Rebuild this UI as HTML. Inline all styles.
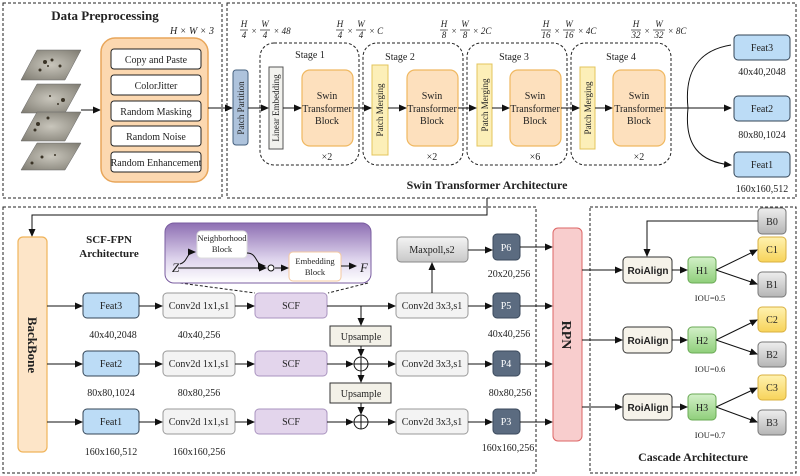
<!DOCTYPE html>
<html><head><meta charset="utf-8"><style>
html,body{margin:0;padding:0;background:#fff}
svg{display:block}
text{font-family:"Liberation Serif",serif;fill:#222}
.s{font-size:10px}
.b{font-weight:bold}
.fr text{font-size:9px;font-style:italic;text-anchor:middle}
</style></head><body>
<svg width="800" height="476" viewBox="0 0 800 476" xmlns="http://www.w3.org/2000/svg">
<defs>
<marker id="a" markerWidth="8" markerHeight="8" refX="7" refY="4" orient="auto" markerUnits="userSpaceOnUse"><path d="M0,0.5 L8,4 L0,7.5 z" fill="#111"/></marker>
<linearGradient id="pg" x1="0" y1="0" x2="0" y2="1"><stop offset="0" stop-color="#8e6fb3"/><stop offset="0.6" stop-color="#ddd3ec"/><stop offset="1" stop-color="#fff"/></linearGradient>
<linearGradient id="gg" x1="0" y1="0" x2="0" y2="1"><stop offset="0" stop-color="#f4f4f4"/><stop offset="1" stop-color="#c8c8c8"/></linearGradient>
<linearGradient id="grn" x1="0" y1="0" x2="0" y2="1"><stop offset="0" stop-color="#d3f0c8"/><stop offset="1" stop-color="#8fcf7a"/></linearGradient>
<linearGradient id="yel" x1="0" y1="0" x2="0" y2="1"><stop offset="0" stop-color="#fff2b0"/><stop offset="1" stop-color="#f7d35a"/></linearGradient>
<linearGradient id="gry" x1="0" y1="0" x2="0" y2="1"><stop offset="0" stop-color="#eee"/><stop offset="1" stop-color="#b5b5b5"/></linearGradient>
<radialGradient id="img" cx="0.5" cy="0.5" r="0.7"><stop offset="0" stop-color="#c9c6bc"/><stop offset="1" stop-color="#7d7a70"/></radialGradient>
</defs>
<g fill="none" stroke="#222" stroke-dasharray="3,2" stroke-width="1">
<rect x="3" y="3" width="219" height="195"/>
<rect x="227" y="3" width="569" height="195"/>
<rect x="3" y="207" width="533" height="266"/>
<rect x="590" y="207" width="206" height="266"/>
<rect x="260" y="43" width="99" height="122" rx="14"/>
<rect x="363" y="43" width="100" height="122" rx="14"/>
<rect x="467" y="43" width="100" height="122" rx="14"/>
<rect x="571" y="43" width="100" height="122" rx="14"/>
<path d="M180,283 L255,293 M368,283 L328,293"/>
</g>
<text x="105" y="20" text-anchor="middle" font-size="13" class="b">Data Preprocessing</text>
<g fill="url(#img)" stroke="#666" stroke-width="0.5">
<path d="M37,50 L81,50 L65,80 L21,80 z"/><path d="M37,84 L81,84 L65,113 L21,113 z"/>
<path d="M37,112 L81,112 L65,141 L21,141 z"/><path d="M37,143 L81,143 L65,170 L21,170 z"/>
</g>
<g fill="#3a3326"><circle cx="45" cy="62" r="2"/><circle cx="52" cy="60" r="1.5"/><circle cx="60" cy="66" r="1.5"/><circle cx="40" cy="70" r="1.5"/><circle cx="48" cy="66" r="1"/><circle cx="63" cy="100" r="2"/><circle cx="50" cy="96" r="1"/><circle cx="58" cy="104" r="1"/><circle cx="38" cy="124" r="2"/><circle cx="48" cy="118" r="1.5"/><circle cx="35" cy="130" r="1.5"/><circle cx="42" cy="157" r="1.5"/><circle cx="32" cy="163" r="1.5"/><circle cx="55" cy="155" r="1"/></g>
<line x1="81" y1="110" x2="100" y2="110" stroke="#111" marker-end="url(#a)"/>
<text x="192" y="34" text-anchor="middle" class="s" font-style="italic">H × W × 3</text>
<rect x="101" y="38" width="107" height="144" rx="14" fill="#fcd8b0" stroke="#e8a65a" stroke-width="1.5"/>
<g fill="#fff" stroke="#222" stroke-width="1">
<rect x="111" y="49" width="90" height="20" rx="3"/><rect x="111" y="75" width="90" height="20" rx="3"/><rect x="111" y="101" width="90" height="20" rx="3"/><rect x="111" y="126" width="90" height="20" rx="3"/><rect x="111" y="152" width="90" height="20" rx="3"/>
</g>
<g text-anchor="middle" font-size="10"><text x="156" y="63">Copy and Paste</text><text x="156" y="89">ColorJitter</text><text x="156" y="115">Random Masking</text><text x="156" y="140">Random Noise</text><text x="156" y="166">Random Enhancement</text></g>
<line x1="208" y1="108" x2="232" y2="108" stroke="#111" marker-end="url(#a)"/>
<rect x="233" y="70" width="15" height="75" rx="3" fill="#aec3dc" stroke="#46607e"/>
<text transform="translate(244,108) rotate(-90)" text-anchor="middle" font-size="9">Patch Partition</text>
<rect x="269" y="67" width="14" height="82" fill="#f2f2ee" stroke="#555"/>
<text transform="translate(279,108) rotate(-90)" text-anchor="middle" font-size="9">Linear Embedding</text>
<g fill="#fde0bd" stroke="#f0b860" stroke-width="1.2">
<rect x="302" y="70" width="51" height="76" rx="8"/><rect x="407" y="70" width="51" height="76" rx="8"/><rect x="510" y="70" width="51" height="76" rx="8"/><rect x="613" y="70" width="52" height="76" rx="8"/>
</g>
<g fill="#fcefb8" stroke="#e3c45c">
<rect x="372" y="65" width="16" height="90"/><rect x="477" y="64" width="15" height="82"/><rect x="580" y="67" width="15" height="82"/>
</g>
<g font-size="9" text-anchor="middle"><text transform="translate(383,110) rotate(-90)">Patch Merging</text><text transform="translate(488,105) rotate(-90)">Patch Merging</text><text transform="translate(591,108) rotate(-90)">Patch Merging</text></g>
<g font-size="10" text-anchor="middle">
<text x="327" y="99">Swin</text><text x="327" y="112">Transformer</text><text x="327" y="124">Block</text>
<text x="432" y="99">Swin</text><text x="432" y="112">Transformer</text><text x="432" y="124">Block</text>
<text x="535" y="99">Swin</text><text x="535" y="112">Transformer</text><text x="535" y="124">Block</text>
<text x="639" y="99">Swin</text><text x="639" y="112">Transformer</text><text x="639" y="124">Block</text>
<text x="310" y="58">Stage 1</text><text x="400" y="60">Stage 2</text><text x="514" y="60">Stage 3</text><text x="621" y="60">Stage 4</text>
<text x="327" y="160">×2</text><text x="432" y="160">×2</text><text x="535" y="160">×6</text><text x="639" y="160">×2</text>
</g>
<g stroke="#111" marker-end="url(#a)">
<line x1="248" y1="108" x2="268" y2="108"/><line x1="283" y1="108" x2="301" y2="108"/><line x1="353" y1="108" x2="371" y2="108"/><line x1="388" y1="108" x2="406" y2="108"/><line x1="458" y1="108" x2="476" y2="108"/><line x1="492" y1="108" x2="509" y2="108"/><line x1="561" y1="108" x2="579" y2="108"/><line x1="595" y1="108" x2="612" y2="108"/>
<line x1="665" y1="108" x2="731" y2="108"/>
</g>
<path d="M688,108 C684,70 700,50 731,45 M688,108 C684,146 700,162 731,165" fill="none" stroke="#111" marker-end="url(#a)"/>
<g class="fr">
<text x="244" y="27">H</text><text x="244" y="38">4</text><text x="254" y="34">×</text><text x="265" y="27">W</text><text x="265" y="38">4</text><text x="282" y="34">× 48</text>
<text x="340" y="27">H</text><text x="340" y="38">4</text><text x="350" y="34">×</text><text x="361" y="27">W</text><text x="361" y="38">4</text><text x="376" y="34">× C</text>
<text x="444" y="27">H</text><text x="444" y="38">8</text><text x="454" y="34">×</text><text x="465" y="27">W</text><text x="465" y="38">8</text><text x="482" y="34">× 2C</text>
<text x="546" y="27">H</text><text x="546" y="38">16</text><text x="557" y="34">×</text><text x="569" y="27">W</text><text x="569" y="38">16</text><text x="587" y="34">× 4C</text>
<text x="636" y="27">H</text><text x="636" y="38">32</text><text x="647" y="34">×</text><text x="659" y="27">W</text><text x="659" y="38">32</text><text x="677" y="34">× 8C</text>
</g>
<g stroke="#222" stroke-width="0.7">
<line x1="240" y1="30" x2="248" y2="30"/><line x1="260" y1="30" x2="270" y2="30"/>
<line x1="336" y1="30" x2="344" y2="30"/><line x1="356" y1="30" x2="366" y2="30"/>
<line x1="440" y1="30" x2="448" y2="30"/><line x1="460" y1="30" x2="470" y2="30"/>
<line x1="541" y1="30" x2="551" y2="30"/><line x1="563" y1="30" x2="575" y2="30"/>
<line x1="631" y1="30" x2="641" y2="30"/><line x1="653" y1="30" x2="665" y2="30"/>
</g>
<g fill="#bcdcf6" stroke="#345"><rect x="734" y="35" width="56" height="25" rx="4"/><rect x="734" y="96" width="56" height="25" rx="4"/><rect x="734" y="152" width="56" height="25" rx="4"/></g>
<g font-size="10" text-anchor="middle"><text x="762" y="51">Feat3</text><text x="762" y="112">Feat2</text><text x="762" y="168">Feat1</text>
<text x="762" y="75">40x40,2048</text><text x="762" y="138">80x80,1024</text><text x="762" y="192">160x160,512</text></g>
<text x="487" y="189" text-anchor="middle" font-size="12" class="b">Swin Transformer  Architecture</text>
<path d="M487,198 L487,215 L32,215 L32,236" fill="none" stroke="#111" marker-end="url(#a)"/>
<rect x="18" y="237" width="29" height="215" rx="5" fill="#fde5c8" stroke="#f0b45a" stroke-width="1.2"/>
<text transform="translate(28,345) rotate(90)" text-anchor="middle" font-size="13" class="b">BackBone</text>
<text x="109" y="243" text-anchor="middle" font-size="11" class="b">SCF-FPN</text>
<text x="109" y="257" text-anchor="middle" font-size="11" class="b">Architecture</text>
<rect x="165" y="223" width="206" height="60" rx="9" fill="url(#pg)" stroke="#7a5da0"/>
<rect x="197" y="231" width="50" height="27" rx="4" fill="#fff" stroke="#ddd"/>
<rect x="289" y="252" width="52" height="29" rx="4" fill="#fff" stroke="#f4c9a0"/>
<g font-size="8.5" text-anchor="middle"><text x="222" y="241">Neighborhood</text><text x="222" y="252">Block</text><text x="315" y="264">Embedding</text><text x="315" y="275">Block</text></g>
<text x="172" y="272" font-size="13" font-style="italic">Z</text><text x="360" y="272" font-size="13" font-style="italic">F</text>
<g stroke="#111" fill="none" marker-end="url(#a)"><line x1="178" y1="268" x2="266" y2="268"/><line x1="275" y1="268" x2="288" y2="268"/><line x1="341" y1="266" x2="356" y2="266"/><path d="M180,264 C188,262 186,252 195,252"/><path d="M247,253 C258,253 255,266 265,266"/></g>
<circle cx="271" cy="268" r="3" fill="#fff" stroke="#111"/>
<g fill="#bcdcf6" stroke="#345"><rect x="83" y="293" width="56" height="25" rx="4"/><rect x="83" y="351" width="56" height="25" rx="4"/><rect x="83" y="409" width="56" height="25" rx="4"/></g>
<g fill="#f3f3f3" stroke="#999"><rect x="163" y="293" width="72" height="25" rx="4"/><rect x="163" y="351" width="72" height="25" rx="4"/><rect x="163" y="409" width="72" height="25" rx="4"/>
<rect x="396" y="293" width="72" height="25" rx="4"/><rect x="396" y="351" width="72" height="25" rx="4"/><rect x="396" y="409" width="72" height="25" rx="4"/></g>
<rect x="397" y="237" width="71" height="25" rx="4" fill="url(#gg)" stroke="#888"/>
<g fill="#e3d5ec" stroke="#a993bf"><rect x="255" y="293" width="72" height="25" rx="4"/><rect x="255" y="351" width="72" height="25" rx="4"/><rect x="255" y="409" width="72" height="25" rx="4"/></g>
<g fill="#f3f1e8" stroke="#333"><rect x="330" y="326" width="61" height="20"/><rect x="330" y="383" width="61" height="20"/></g>
<g fill="#5b6b80" stroke="#3b4a5c"><rect x="493" y="234" width="27" height="26" rx="4"/><rect x="493" y="293" width="27" height="25" rx="4"/><rect x="493" y="351" width="27" height="25" rx="4"/><rect x="493" y="409" width="27" height="25" rx="4"/></g>
<g font-size="10" text-anchor="middle">
<text x="111" y="309">Feat3</text><text x="111" y="367">Feat2</text><text x="111" y="425">Feat1</text>
<text x="199" y="309">Conv2d 1x1,s1</text><text x="199" y="367">Conv2d 1x1,s1</text><text x="199" y="425">Conv2d 1x1,s1</text>
<text x="291" y="309">SCF</text><text x="291" y="367">SCF</text><text x="291" y="425">SCF</text>
<text x="432" y="309">Conv2d 3x3,s1</text><text x="432" y="367">Conv2d 3x3,s1</text><text x="432" y="425">Conv2d 3x3,s1</text>
<text x="432" y="253">Maxpoll,s2</text>
<text x="361" y="340">Upsample</text><text x="361" y="397">Upsample</text>
<text x="113" y="338">40x40,2048</text><text x="199" y="338">40x40,256</text>
<text x="111" y="396">80x80,1024</text><text x="199" y="396">80x80,256</text>
<text x="111" y="455">160x160,512</text><text x="199" y="455">160x160,256</text>
<text x="509" y="277">20x20,256</text><text x="509" y="337">40x40,256</text><text x="510" y="396">80x80,256</text><text x="508" y="451">160x160,256</text>
</g>
<g font-size="10" text-anchor="middle"><text x="506" y="251" fill="#fff" style="fill:#fff">P6</text><text x="506" y="309" style="fill:#fff">P5</text><text x="506" y="367" style="fill:#fff">P4</text><text x="506" y="425" style="fill:#fff">P3</text></g>
<g stroke="#111" fill="none">
<circle cx="361" cy="364" r="7"/><line x1="354" y1="364" x2="368" y2="364"/><line x1="361" y1="357" x2="361" y2="371"/>
<circle cx="361" cy="422" r="7"/><line x1="354" y1="422" x2="368" y2="422"/><line x1="361" y1="415" x2="361" y2="429"/>
</g>
<g stroke="#111" fill="none" marker-end="url(#a)">
<line x1="47" y1="306" x2="82" y2="306"/><line x1="47" y1="364" x2="82" y2="364"/><line x1="47" y1="422" x2="82" y2="422"/>
<line x1="139" y1="306" x2="162" y2="306"/><line x1="139" y1="364" x2="162" y2="364"/><line x1="139" y1="422" x2="162" y2="422"/>
<line x1="235" y1="306" x2="254" y2="306"/><line x1="235" y1="364" x2="254" y2="364"/><line x1="235" y1="422" x2="254" y2="422"/>
<line x1="327" y1="306" x2="395" y2="306"/><line x1="327" y1="364" x2="353" y2="364"/><line x1="327" y1="422" x2="353" y2="422"/>
<line x1="368" y1="364" x2="395" y2="364"/><line x1="368" y1="422" x2="395" y2="422"/>
<line x1="361" y1="306" x2="361" y2="325"/><line x1="361" y1="346" x2="361" y2="356"/><line x1="361" y1="371" x2="361" y2="382"/><line x1="361" y1="403" x2="361" y2="414"/>
<line x1="432" y1="293" x2="432" y2="263"/>
<line x1="468" y1="250" x2="492" y2="250"/><line x1="468" y1="306" x2="492" y2="306"/><line x1="468" y1="364" x2="492" y2="364"/><line x1="468" y1="422" x2="492" y2="422"/>
<line x1="520" y1="247" x2="552" y2="247"/><line x1="520" y1="306" x2="552" y2="306"/><line x1="520" y1="364" x2="552" y2="364"/><line x1="520" y1="422" x2="552" y2="422"/>
</g>
<rect x="553" y="228" width="29" height="213" rx="5" fill="#f8cdcd" stroke="#d66"/>
<text transform="translate(562,335) rotate(90)" text-anchor="middle" font-size="14" class="b">RPN</text>
<g fill="#f6f3ea" stroke="#333"><rect x="623" y="257" width="49" height="26" rx="4"/><rect x="623" y="327" width="49" height="26" rx="4"/><rect x="623" y="394" width="49" height="26" rx="4"/></g>
<g font-size="10" text-anchor="middle" font-weight="bold"><text x="648" y="274" style="font-family:'Liberation Sans',sans-serif">RoiAlign</text><text x="648" y="344" style="font-family:'Liberation Sans',sans-serif">RoiAlign</text><text x="648" y="411" style="font-family:'Liberation Sans',sans-serif">RoiAlign</text></g>
<g fill="url(#grn)" stroke="#6aaa55"><rect x="688" y="257" width="28" height="26" rx="4"/><rect x="688" y="327" width="28" height="26" rx="4"/><rect x="688" y="394" width="28" height="26" rx="4"/></g>
<g fill="url(#yel)" stroke="#d8b040"><rect x="758" y="237" width="28" height="25" rx="4"/><rect x="758" y="307" width="28" height="25" rx="4"/><rect x="758" y="375" width="28" height="25" rx="4"/></g>
<g fill="url(#gry)" stroke="#777"><rect x="758" y="208" width="28" height="26" rx="4"/><rect x="758" y="272" width="28" height="25" rx="4"/><rect x="758" y="342" width="28" height="25" rx="4"/><rect x="758" y="410" width="28" height="25" rx="4"/></g>
<g font-size="10" text-anchor="middle">
<text x="702" y="274">H1</text><text x="702" y="344">H2</text><text x="702" y="411">H3</text>
<text x="772" y="225">B0</text><text x="772" y="253">C1</text><text x="772" y="288">B1</text><text x="772" y="323">C2</text><text x="772" y="358">B2</text><text x="772" y="391">C3</text><text x="772" y="426">B3</text>
<text x="710" y="301" font-size="8.5">IOU=0.5</text><text x="710" y="372" font-size="8.5">IOU=0.6</text><text x="710" y="438" font-size="8.5">IOU=0.7</text>
</g>
<g stroke="#111" fill="none" marker-end="url(#a)">
<path d="M758,221 L647,221 L647,256"/>
<line x1="582" y1="270" x2="622" y2="270"/><line x1="582" y1="340" x2="622" y2="340"/><line x1="582" y1="407" x2="622" y2="407"/>
<line x1="672" y1="270" x2="687" y2="270"/><line x1="672" y1="340" x2="687" y2="340"/><line x1="672" y1="407" x2="687" y2="407"/>
<line x1="716" y1="270" x2="757" y2="250"/><line x1="716" y1="270" x2="757" y2="284"/>
<line x1="716" y1="340" x2="757" y2="320"/><line x1="716" y1="340" x2="757" y2="354"/>
<line x1="716" y1="407" x2="757" y2="388"/><line x1="716" y1="407" x2="757" y2="422"/>
</g>
<text x="693" y="461" text-anchor="middle" font-size="12" class="b">Cascade Architecture</text>
</svg>
</body></html>
